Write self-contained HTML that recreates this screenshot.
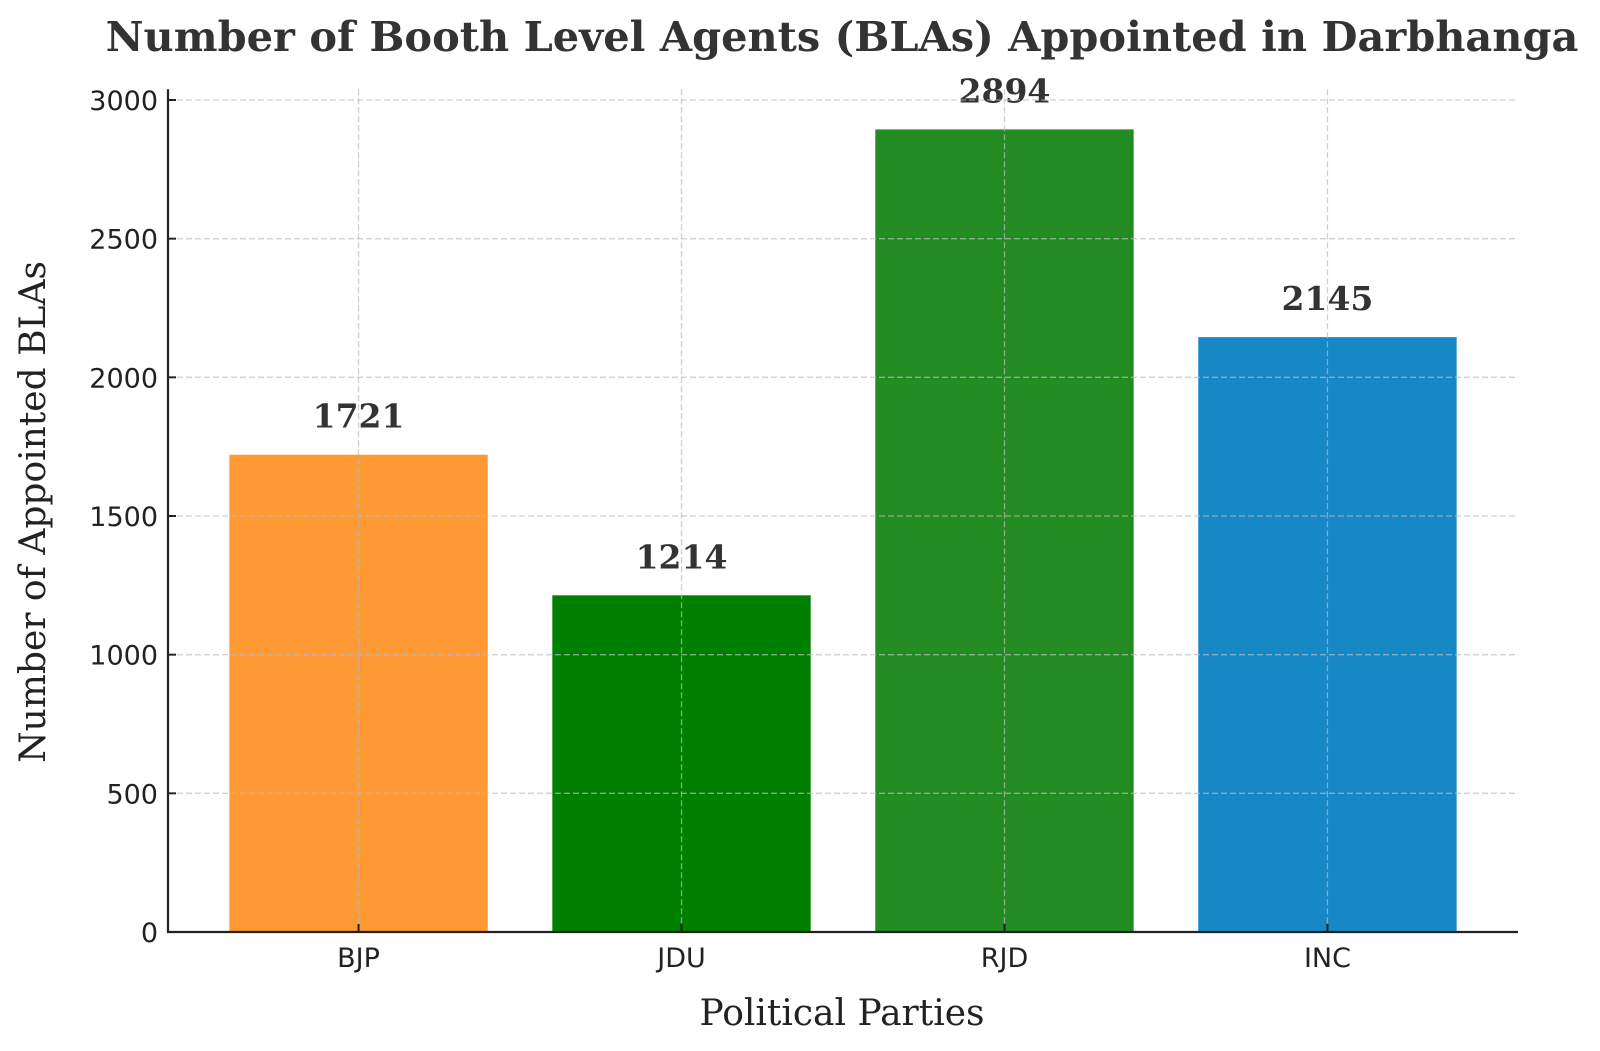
<!DOCTYPE html>
<html><head><meta charset="utf-8"><style>
html,body{margin:0;padding:0;background:#fff;}
svg{display:block;}
</style></head><body>
<svg id="chart" width="1600" height="1051" viewBox="0 0 1600 1051" xmlns="http://www.w3.org/2000/svg">
<text x="842" y="51" text-anchor="middle" font-family="DejaVu Serif, Liberation Serif, serif" font-weight="bold" font-size="41.5" fill="#333">Number of Booth Level Agents (BLAs) Appointed in Darbhanga</text>
<g id="grid"></g>
<g id="bars"></g>
<g id="axes"></g>
<text x="842" y="1025" text-anchor="middle" font-family="DejaVu Serif, Liberation Serif, serif" font-size="36" fill="#222">Political Parties</text>
<text transform="translate(45,512) rotate(-90)" text-anchor="middle" font-family="DejaVu Serif, Liberation Serif, serif" font-size="36" fill="#222">Number of Appointed BLAs</text>
</svg>
<script>
const categories = ["BJP", "JDU", "RJD", "INC"];
const values = [1721, 1214, 2894, 2145];
const colors = ["#FF9933", "#008000", "#228B22", "#1788C6"];
const yTicks = [0, 500, 1000, 1500, 2000, 2500, 3000];

const NS = "http://www.w3.org/2000/svg";
const plotLeft = 168, plotRight = 1518, plotBottom = 932;
const yMax = Math.max(...values) * 1.05;
const yScalePx = (932 - 100) / 3000;
const xMin = -0.59, xMax = categories.length - 1 + 0.59;
function xs(v){ return plotLeft + (v - xMin) / (xMax - xMin) * (plotRight - plotLeft); }
function ys(v){ return plotBottom - v * yScalePx; }
const plotTop = ys(yMax);

function mk(tag, attrs, parent){ const e = document.createElementNS(NS, tag); for (const k in attrs) e.setAttribute(k, attrs[k]); parent.appendChild(e); return e; }
const bars = document.getElementById('bars');
const axes = document.getElementById('axes');
const unit = (plotRight - plotLeft) / (xMax - xMin);

categories.forEach((c, i) => {
  const cx = xs(i), w = 0.8 * unit;
  const r = mk('rect', {x: cx - w/2, y: ys(values[i]), width: w, height: plotBottom - ys(values[i]), fill: colors[i]}, bars);
  
  
  const t = mk('text', {x: cx, y: ys(values[i]) - 27, 'text-anchor': 'middle', 'font-family': 'DejaVu Serif, Liberation Serif, serif', 'font-weight': 'bold', 'font-size': '33', fill: '#333'}, bars);
  t.textContent = values[i];
  
  
  const g = mk('line', {x1: cx, x2: cx, y1: plotTop, y2: plotBottom, stroke: '#bbb', 'stroke-opacity': '0.7', 'stroke-width': '1.3', 'stroke-dasharray': '6,3'}, axes);
  
  
  const tk = mk('line', {x1: cx, x2: cx, y1: plotBottom, y2: plotBottom - 8, stroke: '#222', 'stroke-width': '2'}, axes);
  
  
  const tl = mk('text', {x: cx, y: plotBottom + 35, 'text-anchor': 'middle', 'font-family': 'DejaVu Sans, Liberation Sans, sans-serif', 'font-size': '27', fill: '#222'}, axes);
  tl.textContent = c;
  
  
});

yTicks.forEach(v => {
  const y = ys(v);
  if (v > 0) {
    const g = mk('line', {x1: plotLeft, x2: plotRight, y1: y, y2: y, stroke: '#bbb', 'stroke-opacity': '0.7', 'stroke-width': '1.3', 'stroke-dasharray': '6,3'}, axes);
    
    
  }
  const tk = mk('line', {x1: plotLeft, x2: plotLeft + 8, y1: y, y2: y, stroke: '#222', 'stroke-width': '2'}, axes);
  
  
  const tl = mk('text', {x: plotLeft - 10, y: y + 10, 'text-anchor': 'end', 'font-family': 'DejaVu Sans, Liberation Sans, sans-serif', 'font-size': '27', fill: '#222'}, axes);
  tl.textContent = v;
  
  
});

const ya = mk('line', {x1: plotLeft, x2: plotLeft, y1: plotTop, y2: plotBottom + 1, stroke: '#222', 'stroke-width': '2.2'}, axes);


const xa = mk('line', {x1: plotLeft - 1, x2: plotRight, y1: plotBottom, y2: plotBottom, stroke: '#222', 'stroke-width': '2.2'}, axes);


</script>
</body></html>
